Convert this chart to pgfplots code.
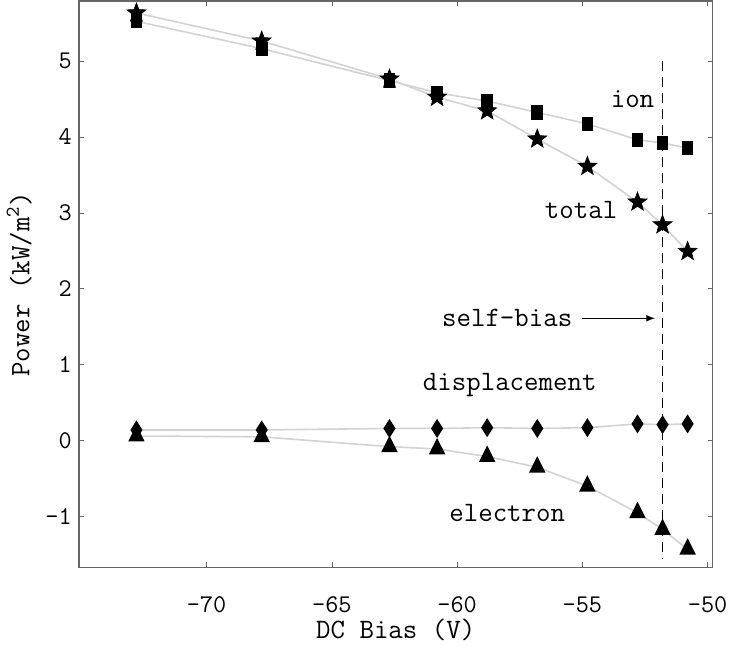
\documentclass[border=0pt]{standalone}
\usepackage{pgfplots}
\pgfplotsset{compat=1.18}
\renewcommand{\familydefault}{\ttdefault}
\pgfdeclareplotmark{fstar}{%
 \pgfpathmoveto{\pgfpointpolar{90}{\pgfplotmarksize}}%
 \pgfpathlineto{\pgfpointpolar{126}{0.42\pgfplotmarksize}}%
 \pgfpathlineto{\pgfpointpolar{162}{\pgfplotmarksize}}%
 \pgfpathlineto{\pgfpointpolar{198}{0.42\pgfplotmarksize}}%
 \pgfpathlineto{\pgfpointpolar{234}{\pgfplotmarksize}}%
 \pgfpathlineto{\pgfpointpolar{270}{0.42\pgfplotmarksize}}%
 \pgfpathlineto{\pgfpointpolar{306}{\pgfplotmarksize}}%
 \pgfpathlineto{\pgfpointpolar{342}{0.42\pgfplotmarksize}}%
 \pgfpathlineto{\pgfpointpolar{18}{\pgfplotmarksize}}%
 \pgfpathlineto{\pgfpointpolar{54}{0.42\pgfplotmarksize}}%
 \pgfpathclose\pgfusepathqfillstroke}
\begin{document}
\begin{tikzpicture}
\begin{axis}[
  scale only axis, width=316pt, height=282.5pt,
  xmin=-75.1, xmax=-49.8, ymin=-1.67, ymax=5.79,
  xtick={-70,-65,-60,-55,-50}, ytick={-1,0,1,2,3,4,5},
  tick align=inside, major tick length=2.5pt,
  axis line style={gray!80!black, line width=0.8pt},
  tick style={gray!80!black},
  /pgf/number format/assume math mode=true,
  ticklabel style={font=\fontsize{12.7}{14}\selectfont},
  xticklabel style={yshift=-11pt},
  label style={font=\fontsize{14}{16}\selectfont},
  xlabel style={yshift=4pt},
  xlabel={DC Bias (V)},
  ylabel={Power (kW/m\textsuperscript{2})},
  every axis plot/.append style={line width=0.8pt},
]
% ion
\addplot[gray!35, mark=square*, mark options={black, fill=black, yscale=1.25}, mark size=2.5pt] coordinates {
(-72.8,5.52) (-67.8,5.16) (-62.7,4.74) (-60.8,4.58) (-58.8,4.47) (-56.8,4.32) (-54.8,4.17) (-52.8,3.96) (-51.8,3.92) (-50.8,3.85)};
% total
\addplot[gray!35, mark=fstar, mark options={black, fill=black, line width=0.3pt}, mark size=5pt] coordinates {
(-72.8,5.63) (-67.8,5.26) (-62.7,4.76) (-60.8,4.52) (-58.8,4.34) (-56.8,3.97) (-54.8,3.61) (-52.8,3.14) (-51.8,2.84) (-50.8,2.49)};
% displacement
\addplot[gray!35, mark=diamond*, mark options={black, fill=black, xscale=0.85}, mark size=4pt] coordinates {
(-72.8,0.14) (-67.8,0.14) (-62.7,0.16) (-60.8,0.16) (-58.8,0.17) (-56.8,0.16) (-54.8,0.17) (-52.8,0.22) (-51.8,0.21) (-50.8,0.22)};
% electron
\addplot[gray!35, mark=triangle*, mark options={black, fill=black, yscale=1.15}, mark size=4pt] coordinates {
(-72.8,0.06) (-67.8,0.05) (-62.7,-0.08) (-60.8,-0.11) (-58.8,-0.21) (-56.8,-0.35) (-54.8,-0.6) (-52.8,-0.95) (-51.8,-1.17) (-50.8,-1.43)};
% self-bias line
\addplot[black, dashed, line width=0.8pt, dash pattern=on 5pt off 3pt] coordinates {(-51.8,5.0) (-51.8,-1.55)};
\addplot[black, line width=0.5pt, -latex] coordinates {(-55.0,1.61) (-52.1,1.61)};
\node[font=\fontsize{14}{16}\selectfont] at (axis cs:-53.0,4.5) {ion};
\node[font=\fontsize{14}{16}\selectfont] at (axis cs:-55.05,3.04) {total};
\node[font=\fontsize{14}{16}\selectfont] at (axis cs:-58.0,1.61) {self-bias};
\node[font=\fontsize{14}{16}\selectfont] at (axis cs:-57.9,0.73) {displacement};
\node[font=\fontsize{14}{16}\selectfont] at (axis cs:-58.0,-0.95) {electron};
\end{axis}
\end{tikzpicture}
\end{document}
